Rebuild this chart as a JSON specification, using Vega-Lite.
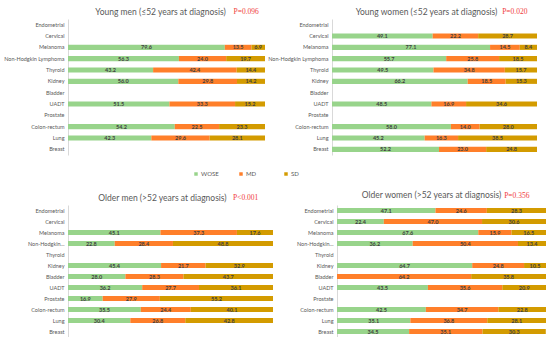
{
  "$schema": "https://vega.github.io/schema/vega-lite/v6.json",
  "padding": {"left": 0, "top": 7, "right": 0, "bottom": 0},
  "background": "white",
  "datasets": {
    "all": [
      {"p": "YM", "c": "Melanoma", "WOSE": 79.6, "MD": 13.5, "SD": 6.9},
      {"p": "YM", "c": "Non-Hodgkin Lymphoma", "WOSE": 56.3, "MD": 24.0, "SD": 19.7},
      {"p": "YM", "c": "Thyroid", "WOSE": 43.2, "MD": 42.4, "SD": 14.4},
      {"p": "YM", "c": "Kidney", "WOSE": 56.0, "MD": 29.8, "SD": 14.2},
      {"p": "YM", "c": "UADT", "WOSE": 51.5, "MD": 33.3, "SD": 15.2},
      {"p": "YM", "c": "Colon-rectum", "WOSE": 54.2, "MD": 22.5, "SD": 23.3},
      {"p": "YM", "c": "Lung", "WOSE": 42.3, "MD": 29.6, "SD": 28.1},
      {"p": "YW", "c": "Cervical", "WOSE": 49.1, "MD": 22.2, "SD": 28.7},
      {"p": "YW", "c": "Melanoma", "WOSE": 77.1, "MD": 14.5, "SD": 8.4},
      {"p": "YW", "c": "Non-Hodgkin Lymphoma", "WOSE": 55.7, "MD": 25.8, "SD": 18.5},
      {"p": "YW", "c": "Thyroid", "WOSE": 49.5, "MD": 34.8, "SD": 15.7},
      {"p": "YW", "c": "Kidney", "WOSE": 66.2, "MD": 18.5, "SD": 15.3},
      {"p": "YW", "c": "UADT", "WOSE": 48.5, "MD": 16.9, "SD": 34.6},
      {"p": "YW", "c": "Colon-rectum", "WOSE": 58.0, "MD": 14.0, "SD": 28.0},
      {"p": "YW", "c": "Lung", "WOSE": 45.2, "MD": 16.3, "SD": 38.5},
      {"p": "YW", "c": "Breast", "WOSE": 52.2, "MD": 23.0, "SD": 24.8},
      {"p": "OM", "c": "Melanoma", "WOSE": 45.1, "MD": 37.3, "SD": 17.6},
      {"p": "OM", "c": "Non-Hodgkin Lymphoma", "WOSE": 22.8, "MD": 28.4, "SD": 48.8},
      {"p": "OM", "c": "Kidney", "WOSE": 45.4, "MD": 21.7, "SD": 32.9},
      {"p": "OM", "c": "Bladder", "WOSE": 28.0, "MD": 28.3, "SD": 43.7},
      {"p": "OM", "c": "UADT", "WOSE": 36.2, "MD": 27.7, "SD": 36.1},
      {"p": "OM", "c": "Prostate", "WOSE": 16.9, "MD": 27.9, "SD": 55.2},
      {"p": "OM", "c": "Colon-rectum", "WOSE": 35.5, "MD": 24.4, "SD": 40.1},
      {"p": "OM", "c": "Lung", "WOSE": 30.4, "MD": 26.8, "SD": 42.8},
      {"p": "OW", "c": "Endometrial", "WOSE": 47.1, "MD": 24.6, "SD": 28.3},
      {"p": "OW", "c": "Cervical", "WOSE": 22.4, "MD": 47.0, "SD": 30.6},
      {"p": "OW", "c": "Melanoma", "WOSE": 67.6, "MD": 15.9, "SD": 16.5},
      {"p": "OW", "c": "Non-Hodgkin Lymphoma", "WOSE": 36.2, "MD": 50.4, "SD": 13.4},
      {"p": "OW", "c": "Kidney", "WOSE": 64.7, "MD": 24.8, "SD": 10.5},
      {"p": "OW", "c": "Bladder", "WOSE": 0.0, "MD": 64.2, "SD": 35.8},
      {"p": "OW", "c": "UADT", "WOSE": 43.5, "MD": 35.6, "SD": 20.9},
      {"p": "OW", "c": "Colon-rectum", "WOSE": 42.5, "MD": 34.7, "SD": 22.8},
      {"p": "OW", "c": "Lung", "WOSE": 35.1, "MD": 36.8, "SD": 28.1},
      {"p": "OW", "c": "Breast", "WOSE": 34.5, "MD": 35.1, "SD": 30.3}
    ]
  },
  "config": {
    "font": "Lato",
    "view": {"stroke": null},
    "axis": {"domainColor": "#D9D9D9", "ticks": false, "grid": false, "labelFontSize": 5.5, "labelColor": "#595959", "labelPadding": 4, "labelFont": "Lato"},
    "title": {"fontSize": 8.5, "font": "Lato", "fontWeight": "normal", "color": "#595959", "anchor": "middle", "frame": "group", "offset": -8},
    "legend": {"orient": "none", "legendX": 125, "legendY": 152, "direction": "horizontal", "title": null, "symbolType": "square", "symbolSize": 12, "labelFontSize": 6, "labelColor": "#595959", "labelFont": "Lato", "columnPadding": 19, "gridAlign": "all", "labelOffset": 2},
    "bar": {"stroke": null}
  },
  "resolve": {"scale": {"x": "independent", "y": "independent", "color": "shared"}},
  "spacing": 36,
  "vconcat": [
    {
      "hconcat": [
        {
          "width": 197, "height": 136,
          "title": {"text": "Young men (≤52 years at diagnosis)", "dx": -6},
          "layer": [
            {
              "data": {"name": "all"},
              "transform": [{"filter": "datum.p=='YM'"}, {"fold": ["WOSE", "MD", "SD"], "as": ["grp", "pct"]}, {"calculate": "indexof(['WOSE','MD','SD'],datum.grp)", "as": "k"}],
              "mark": {"type": "bar"},
              "encoding": {
                "y": {"field": "c", "type": "nominal", "title": null, "scale": {"domain": ["Endometrial", "Cervical", "Melanoma", "Non-Hodgkin Lymphoma", "Thyroid", "Kidney", "Bladder", "UADT", "Prostate", "Colon-rectum", "Lung", "Breast"], "paddingInner": 0.55, "paddingOuter": 0.275}, "axis": {"minExtent": 68, "maxExtent": 68}},
                "x": {"field": "pct", "type": "quantitative", "stack": "zero", "scale": {"domain": [0, 100], "nice": false}, "axis": null},
                "color": {"field": "grp", "type": "nominal", "scale": {"domain": ["WOSE", "MD", "SD"], "range": ["#98D48B", "#FF7F2A", "#D39B00"]}, "legend": {"title": null}},
                "order": {"field": "k", "type": "quantitative"}
              }
            },
            {
              "data": {"name": "all"},
              "transform": [{"filter": "datum.p=='YM'"}, {"fold": ["WOSE", "MD", "SD"], "as": ["grp", "pct"]}, {"calculate": "indexof(['WOSE','MD','SD'],datum.grp)", "as": "k"}, {"filter": "datum.pct > 0"}],
              "mark": {"type": "text", "fontSize": 5.5, "fontWeight": "bold", "color": "#404040", "baseline": "middle"},
              "encoding": {
                "y": {"field": "c", "type": "nominal"},
                "x": {"field": "pct", "type": "quantitative", "stack": "zero", "bandPosition": 0.5},
                "detail": {"field": "grp"},
                "order": {"field": "k", "type": "quantitative"},
                "text": {"field": "pct", "type": "quantitative", "format": ".1f"}
              }
            },
            {
              "data": {"values": [{"t": "P=0.096"}]},
              "mark": {"type": "text", "align": "left", "baseline": "middle", "font": "Liberation Serif", "fontSize": 7.5, "color": "#F03C3C", "dy": -12.5},
              "encoding": {"x": {"datum": 84}, "y": {"datum": "Endometrial"}, "text": {"field": "t"}}
            }
          ]
        },
        {
          "width": 205, "height": 136,
          "title": {"text": "Young women (≤52 years at diagnosis)", "dx": -8},
          "layer": [
            {
              "data": {"name": "all"},
              "transform": [{"filter": "datum.p=='YW'"}, {"fold": ["WOSE", "MD", "SD"], "as": ["grp", "pct"]}, {"calculate": "indexof(['WOSE','MD','SD'],datum.grp)", "as": "k"}],
              "mark": {"type": "bar"},
              "encoding": {
                "y": {"field": "c", "type": "nominal", "title": null, "scale": {"domain": ["Endometrial", "Cervical", "Melanoma", "Non-Hodgkin Lymphoma", "Thyroid", "Kidney", "Bladder", "UADT", "Prostate", "Colon-rectum", "Lung", "Breast"], "paddingInner": 0.55, "paddingOuter": 0.275}, "axis": {"minExtent": 57, "maxExtent": 57}},
                "x": {"field": "pct", "type": "quantitative", "stack": "zero", "scale": {"domain": [0, 100], "nice": false}, "axis": null},
                "color": {"field": "grp", "type": "nominal", "scale": {"domain": ["WOSE", "MD", "SD"], "range": ["#98D48B", "#FF7F2A", "#D39B00"]}, "legend": {"title": null}},
                "order": {"field": "k", "type": "quantitative"}
              }
            },
            {
              "data": {"name": "all"},
              "transform": [{"filter": "datum.p=='YW'"}, {"fold": ["WOSE", "MD", "SD"], "as": ["grp", "pct"]}, {"calculate": "indexof(['WOSE','MD','SD'],datum.grp)", "as": "k"}, {"filter": "datum.pct > 0"}],
              "mark": {"type": "text", "fontSize": 5.5, "fontWeight": "bold", "color": "#404040", "baseline": "middle"},
              "encoding": {
                "y": {"field": "c", "type": "nominal"},
                "x": {"field": "pct", "type": "quantitative", "stack": "zero", "bandPosition": 0.5},
                "detail": {"field": "grp"},
                "order": {"field": "k", "type": "quantitative"},
                "text": {"field": "pct", "type": "quantitative", "format": ".1f"}
              }
            },
            {
              "data": {"values": [{"t": "P=0.020"}]},
              "mark": {"type": "text", "align": "left", "baseline": "middle", "font": "Liberation Serif", "fontSize": 7.5, "color": "#F03C3C", "dy": -12.5},
              "encoding": {"x": {"datum": 83}, "y": {"datum": "Endometrial"}, "text": {"field": "t"}}
            }
          ]
        }
      ],
      "spacing": 67,
      "bounds": "flush",
      "resolve": {"scale": {"x": "independent", "y": "independent", "color": "shared"}}
    },
    {
      "hconcat": [
        {
          "width": 205, "height": 132,
          "title": {"text": "Older men (>52 years at diagnosis)", "dx": -8},
          "layer": [
            {
              "data": {"name": "all"},
              "transform": [{"filter": "datum.p=='OM'"}, {"fold": ["WOSE", "MD", "SD"], "as": ["grp", "pct"]}, {"calculate": "indexof(['WOSE','MD','SD'],datum.grp)", "as": "k"}],
              "mark": {"type": "bar"},
              "encoding": {
                "y": {"field": "c", "type": "nominal", "title": null, "scale": {"domain": ["Endometrial", "Cervical", "Melanoma", "Non-Hodgkin Lymphoma", "Thyroid", "Kidney", "Bladder", "UADT", "Prostate", "Colon-rectum", "Lung", "Breast"], "paddingInner": 0.55, "paddingOuter": 0.275}, "axis": {"minExtent": 58, "maxExtent": 58, "labelExpr": "datum.label == 'Non-Hodgkin Lymphoma' ? 'Non-Hodgkin...' : datum.label"}},
                "x": {"field": "pct", "type": "quantitative", "stack": "zero", "scale": {"domain": [0, 100], "nice": false}, "axis": null},
                "color": {"field": "grp", "type": "nominal", "scale": {"domain": ["WOSE", "MD", "SD"], "range": ["#98D48B", "#FF7F2A", "#D39B00"]}, "legend": {"title": null}},
                "order": {"field": "k", "type": "quantitative"}
              }
            },
            {
              "data": {"name": "all"},
              "transform": [{"filter": "datum.p=='OM'"}, {"fold": ["WOSE", "MD", "SD"], "as": ["grp", "pct"]}, {"calculate": "indexof(['WOSE','MD','SD'],datum.grp)", "as": "k"}, {"filter": "datum.pct > 0"}],
              "mark": {"type": "text", "fontSize": 5.5, "fontWeight": "bold", "color": "#404040", "baseline": "middle"},
              "encoding": {
                "y": {"field": "c", "type": "nominal"},
                "x": {"field": "pct", "type": "quantitative", "stack": "zero", "bandPosition": 0.5},
                "detail": {"field": "grp"},
                "order": {"field": "k", "type": "quantitative"},
                "text": {"field": "pct", "type": "quantitative", "format": ".1f"}
              }
            },
            {
              "data": {"values": [{"t": "P<0.001"}]},
              "mark": {"type": "text", "align": "left", "baseline": "middle", "font": "Liberation Serif", "fontSize": 7.5, "color": "#F03C3C", "dy": -12.5},
              "encoding": {"x": {"datum": 80.5}, "y": {"datum": "Endometrial"}, "text": {"field": "t"}}
            }
          ]
        },
        {
          "width": 209, "height": 132,
          "title": {"text": "Older women (>52 years at diagnosis)", "dx": -10},
          "layer": [
            {
              "data": {"name": "all"},
              "transform": [{"filter": "datum.p=='OW'"}, {"fold": ["WOSE", "MD", "SD"], "as": ["grp", "pct"]}, {"calculate": "indexof(['WOSE','MD','SD'],datum.grp)", "as": "k"}],
              "mark": {"type": "bar"},
              "encoding": {
                "y": {"field": "c", "type": "nominal", "title": null, "scale": {"domain": ["Endometrial", "Cervical", "Melanoma", "Non-Hodgkin Lymphoma", "Thyroid", "Kidney", "Bladder", "UADT", "Prostate", "Colon-rectum", "Lung", "Breast"], "paddingInner": 0.55, "paddingOuter": 0.275}, "axis": {"minExtent": 54, "maxExtent": 54, "labelExpr": "datum.label == 'Non-Hodgkin Lymphoma' ? 'Non-Hodgkin...' : datum.label"}},
                "x": {"field": "pct", "type": "quantitative", "stack": "zero", "scale": {"domain": [0, 100], "nice": false}, "axis": null},
                "color": {"field": "grp", "type": "nominal", "scale": {"domain": ["WOSE", "MD", "SD"], "range": ["#98D48B", "#FF7F2A", "#D39B00"]}, "legend": {"title": null}},
                "order": {"field": "k", "type": "quantitative"}
              }
            },
            {
              "data": {"name": "all"},
              "transform": [{"filter": "datum.p=='OW'"}, {"fold": ["WOSE", "MD", "SD"], "as": ["grp", "pct"]}, {"calculate": "indexof(['WOSE','MD','SD'],datum.grp)", "as": "k"}, {"filter": "datum.pct > 0"}],
              "mark": {"type": "text", "fontSize": 5.5, "fontWeight": "bold", "color": "#404040", "baseline": "middle"},
              "encoding": {
                "y": {"field": "c", "type": "nominal"},
                "x": {"field": "pct", "type": "quantitative", "stack": "zero", "bandPosition": 0.5},
                "detail": {"field": "grp"},
                "order": {"field": "k", "type": "quantitative"},
                "text": {"field": "pct", "type": "quantitative", "format": ".1f"}
              }
            },
            {
              "data": {"values": [{"t": "P=0.356"}]},
              "mark": {"type": "text", "align": "left", "baseline": "middle", "font": "Liberation Serif", "fontSize": 7.5, "color": "#F03C3C", "dy": -15},
              "encoding": {"x": {"datum": 80}, "y": {"datum": "Endometrial"}, "text": {"field": "t"}}
            }
          ]
        }
      ],
      "spacing": 10,
      "resolve": {"scale": {"x": "independent", "y": "independent", "color": "shared"}}
    }
  ]
}
